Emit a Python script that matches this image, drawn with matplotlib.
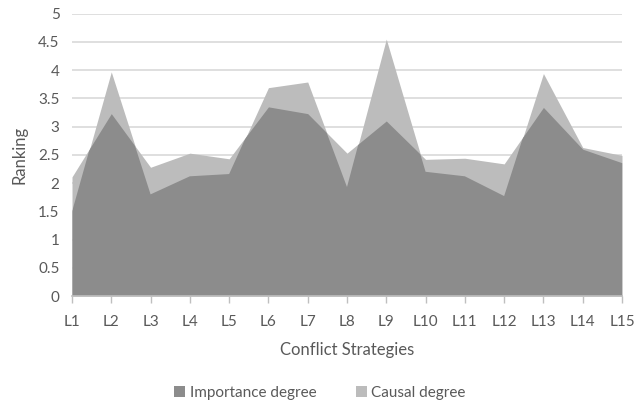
import matplotlib
matplotlib.use("Agg")
import matplotlib.pyplot as plt
from matplotlib.patches import Patch

categories = ["L1", "L2", "L3", "L4", "L5", "L6", "L7", "L8", "L9", "L10",
              "L11", "L12", "L13", "L14", "L15"]
importance = [2.11, 3.23, 2.28, 2.53, 2.43, 3.35, 3.23, 2.53, 3.10, 2.42,
              2.44, 2.34, 3.34, 2.60, 2.36]
causal = [1.49, 3.97, 1.80, 2.12, 2.16, 3.69, 3.79, 1.93, 4.55, 2.20,
          2.12, 1.77, 3.94, 2.63, 2.49]
yticks = [0, 0.5, 1, 1.5, 2, 2.5, 3, 3.5, 4, 4.5, 5]
ytick_labels = ["0", "0.5", "1", "1.5", "2", "2.5", "3", "3.5", "4", "4.5", "5"]

DARK = "#8c8c8c"
LIGHT = "#bcbcbc"
TEXT = "#595959"

plt.rcParams['font.family'] = ['Lato', 'DejaVu Sans']
fig = plt.figure(figsize=(6.34, 4.07), dpi=100)
ax = fig.add_axes([72/634, 1-296/407, (622-72)/634, (296-13.7)/407])

x = list(range(len(categories)))
# each series alone shows light; where both cover, dark
pc = ax.fill_between(x, 0, causal, color=LIGHT, linewidth=0, zorder=2)
ax.fill_between(x, 0, importance, color=LIGHT, linewidth=0, zorder=2)
overlap = ax.fill_between(x, 0, importance, color=DARK, linewidth=0, zorder=3)
overlap.set_clip_path(pc.get_paths()[0], ax.transData)

ax.set_xlim(0, len(categories) - 1)
ax.set_ylim(0, 5)
ax.set_yticks(yticks)
ax.set_yticklabels(ytick_labels)
ax.set_xticks(x)
ax.set_xticklabels(categories)
ax.yaxis.grid(True, color="#d9d9d9", linewidth=1.2, zorder=0)
ax.set_axisbelow(True)
for s in ["top", "right", "left"]:
    ax.spines[s].set_visible(False)
ax.spines["bottom"].set_color("#bfbfbf")
ax.spines["bottom"].set_linewidth(1.2)
ax.spines["bottom"].set_zorder(4)
ax.tick_params(axis="y", length=0, labelsize=11, labelcolor=TEXT, pad=9)
ax.tick_params(axis="x", length=5, width=1, color="#bfbfbf", labelsize=11,
               labelcolor=TEXT, pad=9)

ax.set_ylabel("Ranking", fontsize=12, color=TEXT, labelpad=8)
ax.set_xlabel("Conflict Strategies", fontsize=12, color=TEXT, labelpad=9)

handles = [Patch(facecolor=DARK, edgecolor="none", label="Importance degree"),
           Patch(facecolor=LIGHT, edgecolor="none", label="Causal degree")]
fig.legend(handles=handles, loc="center", bbox_to_anchor=(320/634, 1-393/407),
           ncol=2, frameon=False, fontsize=11, labelcolor=TEXT,
           handlelength=0.7, handleheight=0.7, handletextpad=0.3, columnspacing=2.6)

fig.savefig("out.png", dpi=100)
